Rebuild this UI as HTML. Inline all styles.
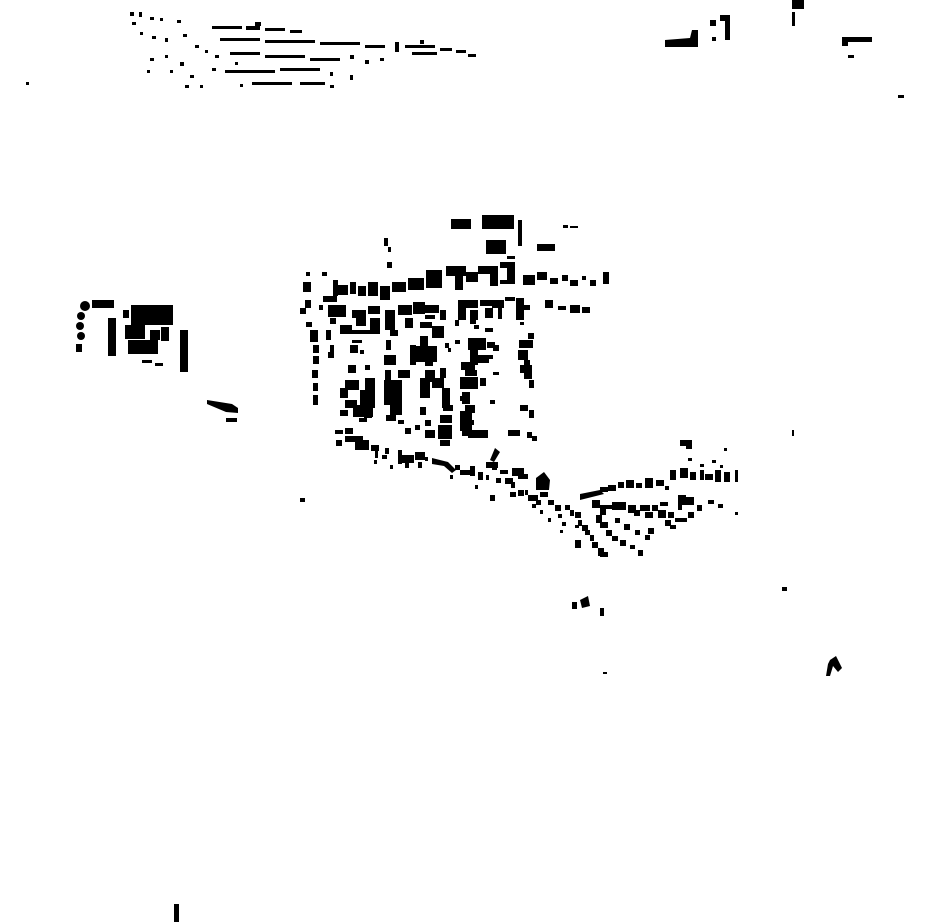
<!DOCTYPE html>
<html><head><meta charset="utf-8"><style>html,body{margin:0;padding:0;background:#fff}svg{display:block}</style></head>
<body>
<svg width="930" height="924" viewBox="0 0 930 924" xmlns="http://www.w3.org/2000/svg" fill="#000">
<!-- top strip -->
<g>
<rect x="130" y="12" width="4" height="4"/><rect x="139" y="12" width="3" height="5"/><rect x="132" y="22" width="4" height="3"/><rect x="150" y="17" width="4" height="3"/><rect x="160" y="18" width="3" height="3"/><rect x="177" y="20" width="4" height="3"/>
<rect x="140" y="32" width="3" height="3"/><rect x="152" y="36" width="4" height="3"/><rect x="165" y="38" width="3" height="4"/><rect x="183" y="34" width="4" height="3"/><rect x="195" y="45" width="4" height="3"/><rect x="205" y="50" width="3" height="3"/>
<rect x="212" y="26" width="30" height="3"/><rect x="246" y="26" width="14" height="4"/><rect x="255" y="22" width="6" height="4"/><rect x="265" y="28" width="20" height="3"/><rect x="290" y="30" width="12" height="3"/>
<rect x="220" y="38" width="40" height="3"/><rect x="265" y="40" width="50" height="3"/><rect x="320" y="42" width="40" height="3"/><rect x="365" y="45" width="20" height="3"/>
<rect x="215" y="55" width="4" height="3"/><rect x="230" y="52" width="30" height="3"/><rect x="265" y="55" width="40" height="3"/><rect x="310" y="58" width="30" height="3"/><rect x="350" y="55" width="4" height="4"/>
<rect x="395" y="42" width="4" height="10"/><rect x="405" y="45" width="30" height="3"/><rect x="412" y="52" width="25" height="3"/><rect x="440" y="48" width="12" height="3"/><rect x="456" y="50" width="10" height="3"/><rect x="468" y="54" width="8" height="3"/>
<rect x="150" y="58" width="4" height="3"/><rect x="165" y="55" width="3" height="3"/><rect x="180" y="62" width="4" height="4"/><rect x="147" y="70" width="3" height="3"/><rect x="170" y="70" width="3" height="3"/><rect x="190" y="75" width="4" height="3"/>
<rect x="212" y="68" width="4" height="3"/><rect x="225" y="70" width="50" height="3"/><rect x="280" y="68" width="40" height="3"/><rect x="330" y="72" width="3" height="4"/><rect x="350" y="75" width="3" height="5"/>
<rect x="185" y="85" width="4" height="3"/><rect x="200" y="85" width="3" height="3"/><rect x="240" y="84" width="3" height="3"/><rect x="252" y="82" width="40" height="3"/><rect x="300" y="82" width="25" height="3"/><rect x="330" y="85" width="4" height="3"/>
<rect x="235" y="62" width="3" height="3"/><rect x="365" y="60" width="4" height="4"/><rect x="380" y="58" width="4" height="3"/><rect x="420" y="40" width="4" height="4"/>
<rect x="26" y="82" width="3" height="3"/>
<polygon points="665,40 690,38 692,30 698,30 698,47 665,47"/><rect x="710" y="20" width="6" height="6"/><rect x="720" y="15" width="10" height="6"/><rect x="725" y="20" width="5" height="20"/><rect x="712" y="37" width="4" height="4"/>
<rect x="792" y="0" width="12" height="9"/><rect x="792" y="12" width="3" height="14"/><rect x="842" y="37" width="30" height="5"/><rect x="842" y="42" width="6" height="4"/><rect x="848" y="55" width="6" height="3"/><rect x="898" y="95" width="6" height="3"/>
</g>
<!-- west group -->
<g>
<circle cx="85" cy="306" r="5"/><circle cx="81" cy="316" r="4"/><circle cx="80" cy="326" r="4"/><circle cx="81" cy="336" r="4"/><rect x="76" y="344" width="6" height="8"/>
<rect x="92" y="300" width="22" height="8"/><rect x="108" y="318" width="8" height="38"/><rect x="123" y="310" width="6" height="8"/><rect x="131" y="305" width="42" height="20"/><rect x="125" y="325" width="20" height="14"/><rect x="128" y="340" width="30" height="14"/><rect x="150" y="330" width="10" height="10"/><rect x="161" y="327" width="8" height="14"/><rect x="180" y="330" width="8" height="42"/><rect x="142" y="360" width="10" height="3"/><rect x="155" y="363" width="8" height="3"/>
<polygon points="207,400 232,404 238,408 238,413 226,412 207,404"/><rect x="226" y="418" width="11" height="4"/>
<rect x="300" y="498" width="5" height="4"/><rect x="174" y="904" width="5" height="18"/>
</g>
<!-- central -->
<g>
<rect x="451" y="219" width="20" height="10"/><rect x="482" y="215" width="32" height="14"/><rect x="486" y="240" width="20" height="14"/><rect x="518" y="220" width="4" height="26"/><rect x="537" y="244" width="18" height="7"/><rect x="563" y="225" width="5" height="3"/><rect x="570" y="226" width="8" height="2"/>
<rect x="384" y="238" width="4" height="8"/><rect x="387" y="262" width="5" height="6"/><rect x="388" y="247" width="3" height="5"/>
<rect x="306" y="272" width="4" height="4"/><rect x="303" y="282" width="8" height="10"/><rect x="322" y="272" width="5" height="4"/><rect x="333" y="280" width="5" height="16"/><rect x="338" y="285" width="10" height="10"/><rect x="350" y="282" width="6" height="12"/><rect x="358" y="286" width="8" height="10"/><rect x="368" y="282" width="10" height="14"/><rect x="380" y="286" width="10" height="14"/><rect x="392" y="282" width="14" height="10"/><rect x="408" y="278" width="16" height="12"/><rect x="426" y="270" width="16" height="18"/><rect x="446" y="266" width="20" height="10"/><rect x="455" y="268" width="8" height="22"/><rect x="466" y="272" width="12" height="10"/><rect x="478" y="266" width="20" height="8"/><rect x="490" y="270" width="8" height="16"/><rect x="500" y="262" width="14" height="6"/><rect x="507" y="262" width="8" height="22"/><rect x="500" y="280" width="14" height="4"/><rect x="507" y="256" width="8" height="3"/>
<rect x="523" y="275" width="12" height="10"/><rect x="537" y="272" width="10" height="8"/><rect x="550" y="278" width="8" height="6"/><rect x="562" y="275" width="6" height="6"/><rect x="570" y="280" width="8" height="6"/><rect x="582" y="276" width="4" height="4"/><rect x="590" y="280" width="6" height="6"/><rect x="603" y="272" width="6" height="12"/>
<rect x="545" y="300" width="8" height="8"/><rect x="558" y="306" width="8" height="4"/><rect x="570" y="305" width="10" height="8"/><rect x="582" y="307" width="8" height="6"/>
<rect x="300" y="308" width="6" height="6"/><rect x="305" y="300" width="6" height="8"/><rect x="306" y="322" width="6" height="5"/><rect x="310" y="330" width="8" height="12"/><rect x="313" y="345" width="6" height="8"/><rect x="313" y="356" width="6" height="8"/><rect x="312" y="370" width="6" height="8"/><rect x="313" y="383" width="5" height="8"/><rect x="313" y="395" width="5" height="10"/><rect x="319" y="305" width="4" height="5"/>
<rect x="323" y="296" width="14" height="6"/><rect x="328" y="305" width="18" height="12"/><rect x="330" y="318" width="6" height="6"/><rect x="326" y="330" width="5" height="10"/><rect x="330" y="345" width="4" height="8"/><rect x="328" y="352" width="6" height="6"/><rect x="340" y="325" width="12" height="8"/><rect x="352" y="310" width="14" height="8"/><rect x="356" y="318" width="10" height="8"/><rect x="368" y="306" width="12" height="8"/><rect x="370" y="318" width="10" height="12"/><rect x="340" y="330" width="40" height="4"/>
<rect x="350" y="345" width="8" height="8"/><rect x="352" y="340" width="10" height="3"/><rect x="360" y="350" width="4" height="4"/><rect x="365" y="365" width="5" height="5"/><rect x="348" y="365" width="8" height="8"/><rect x="345" y="380" width="14" height="10"/><rect x="340" y="388" width="8" height="10"/><rect x="345" y="400" width="12" height="8"/><rect x="340" y="410" width="8" height="6"/><rect x="360" y="390" width="6" height="20"/><rect x="365" y="378" width="10" height="30"/><rect x="353" y="405" width="20" height="12"/><rect x="364" y="414" width="8" height="4"/><rect x="359" y="418" width="8" height="4"/>
<rect x="385" y="310" width="10" height="20"/><rect x="398" y="305" width="14" height="10"/><rect x="405" y="318" width="8" height="10"/><rect x="413" y="302" width="12" height="12"/><rect x="425" y="305" width="14" height="8"/><rect x="425" y="315" width="10" height="4"/><rect x="420" y="322" width="12" height="6"/><rect x="432" y="326" width="12" height="12"/><rect x="440" y="310" width="6" height="10"/><rect x="386" y="340" width="5" height="10"/><rect x="390" y="330" width="8" height="6"/>
<rect x="384" y="355" width="12" height="10"/><rect x="385" y="370" width="6" height="14"/><rect x="384" y="380" width="18" height="25"/><rect x="390" y="405" width="12" height="10"/><rect x="386" y="415" width="10" height="6"/><rect x="398" y="370" width="12" height="8"/><rect x="394" y="400" width="4" height="4"/><rect x="398" y="420" width="6" height="4"/><rect x="405" y="428" width="6" height="6"/><rect x="415" y="425" width="5" height="5"/><rect x="425" y="430" width="10" height="8"/>
<rect x="410" y="345" width="6" height="20"/><rect x="415" y="346" width="22" height="16"/><rect x="420" y="336" width="8" height="10"/><rect x="425" y="360" width="8" height="6"/><rect x="445" y="343" width="4" height="5"/><rect x="448" y="348" width="3" height="4"/>
<rect x="425" y="370" width="10" height="12"/><rect x="420" y="378" width="10" height="20"/><rect x="432" y="378" width="12" height="10"/><rect x="440" y="368" width="6" height="10"/><rect x="442" y="388" width="8" height="20"/><rect x="443" y="405" width="10" height="6"/><rect x="440" y="415" width="12" height="8"/><rect x="438" y="425" width="14" height="14"/><rect x="425" y="420" width="6" height="6"/><rect x="420" y="407" width="6" height="8"/><rect x="440" y="440" width="10" height="6"/>
<rect x="458" y="300" width="8" height="20"/><rect x="466" y="300" width="12" height="8"/><rect x="470" y="310" width="8" height="10"/><rect x="480" y="300" width="12" height="6"/><rect x="485" y="308" width="8" height="10"/><rect x="492" y="300" width="12" height="8"/><rect x="498" y="305" width="4" height="14"/><rect x="455" y="320" width="4" height="6"/><rect x="470" y="320" width="6" height="4"/><rect x="474" y="325" width="5" height="4"/><rect x="485" y="328" width="8" height="4"/>
<rect x="468" y="338" width="18" height="12"/><rect x="470" y="345" width="8" height="20"/><rect x="475" y="355" width="14" height="8"/><rect x="487" y="342" width="8" height="6"/><rect x="493" y="345" width="6" height="6"/><rect x="455" y="340" width="5" height="4"/><rect x="461" y="362" width="14" height="8"/><rect x="465" y="370" width="12" height="6"/><rect x="460" y="377" width="18" height="12"/><rect x="462" y="392" width="8" height="12"/><rect x="465" y="405" width="10" height="8"/><rect x="460" y="411" width="12" height="20"/><rect x="462" y="428" width="10" height="8"/><rect x="470" y="420" width="4" height="5"/><rect x="468" y="430" width="20" height="8"/><rect x="480" y="378" width="6" height="8"/><rect x="488" y="355" width="5" height="4"/><rect x="490" y="400" width="5" height="4"/><rect x="460" y="396" width="3" height="5"/>
<rect x="505" y="297" width="10" height="4"/><rect x="516" y="298" width="8" height="22"/><rect x="524" y="305" width="6" height="5"/><rect x="520" y="322" width="4" height="3"/><rect x="528" y="333" width="6" height="6"/><rect x="519" y="340" width="14" height="8"/><rect x="518" y="350" width="10" height="10"/><rect x="524" y="360" width="6" height="6"/><rect x="520" y="365" width="12" height="8"/><rect x="524" y="373" width="8" height="6"/><rect x="529" y="380" width="5" height="8"/><rect x="520" y="405" width="8" height="6"/><rect x="529" y="410" width="5" height="8"/><rect x="508" y="430" width="12" height="6"/><rect x="527" y="432" width="5" height="6"/><rect x="532" y="436" width="5" height="5"/><rect x="493" y="372" width="6" height="3"/>
<!-- southern band -->
<rect x="336" y="440" width="6" height="6"/><rect x="335" y="430" width="8" height="4"/><rect x="345" y="428" width="8" height="6"/><rect x="345" y="436" width="18" height="6"/><rect x="355" y="440" width="14" height="10"/><rect x="362" y="445" width="6" height="5"/><rect x="371" y="445" width="8" height="6"/><rect x="375" y="448" width="3" height="10"/><rect x="382" y="455" width="5" height="4"/><rect x="385" y="448" width="4" height="6"/><rect x="374" y="460" width="3" height="4"/>
<rect x="398" y="450" width="4" height="14"/><rect x="400" y="455" width="14" height="8"/><rect x="405" y="462" width="4" height="6"/><rect x="415" y="452" width="10" height="8"/><rect x="418" y="462" width="4" height="6"/><rect x="390" y="465" width="3" height="4"/><rect x="425" y="457" width="3" height="4"/>
<polygon points="432,458 448,462 456,470 452,473 444,466 432,464"/><rect x="455" y="465" width="5" height="5"/><rect x="450" y="475" width="3" height="4"/><rect x="460" y="470" width="10" height="5"/><rect x="470" y="466" width="5" height="10"/><rect x="478" y="472" width="5" height="8"/><rect x="486" y="475" width="3" height="5"/><rect x="475" y="485" width="3" height="4"/>
<polygon points="495,448 500,452 494,462 490,460"/><rect x="486" y="462" width="12" height="6"/><rect x="492" y="465" width="5" height="5"/><rect x="500" y="470" width="8" height="4"/><rect x="496" y="478" width="5" height="5"/><rect x="505" y="478" width="8" height="6"/><rect x="511" y="482" width="4" height="6"/><rect x="490" y="495" width="5" height="6"/><rect x="510" y="492" width="6" height="5"/><rect x="518" y="490" width="6" height="6"/><rect x="512" y="468" width="12" height="8"/><rect x="518" y="474" width="10" height="5"/>
<polygon points="536,478 544,472 550,480 549,490 536,490"/><rect x="525" y="490" width="3" height="5"/><rect x="528" y="495" width="10" height="6"/><rect x="536" y="500" width="5" height="5"/><rect x="540" y="492" width="8" height="5"/><rect x="532" y="504" width="4" height="4"/><rect x="548" y="500" width="6" height="5"/><rect x="555" y="505" width="6" height="6"/><rect x="540" y="510" width="3" height="4"/><rect x="558" y="514" width="4" height="4"/>
<rect x="565" y="505" width="5" height="5"/><rect x="570" y="510" width="4" height="6"/><rect x="575" y="512" width="6" height="6"/><rect x="578" y="520" width="4" height="6"/><rect x="582" y="525" width="6" height="6"/><rect x="585" y="530" width="5" height="5"/><rect x="590" y="535" width="4" height="6"/><rect x="575" y="540" width="6" height="8"/><rect x="592" y="542" width="6" height="6"/><rect x="598" y="548" width="6" height="8"/><rect x="600" y="552" width="8" height="5"/><rect x="575" y="525" width="4" height="3"/><rect x="562" y="522" width="4" height="4"/><rect x="560" y="530" width="3" height="3"/><rect x="548" y="518" width="3" height="4"/>
<polygon points="580,494 600,490 604,494 580,500"/><rect x="592" y="500" width="8" height="8"/><rect x="600" y="505" width="6" height="10"/><rect x="596" y="515" width="6" height="8"/><rect x="600" y="522" width="8" height="6"/><rect x="606" y="530" width="6" height="6"/><rect x="612" y="536" width="6" height="5"/><rect x="620" y="540" width="6" height="6"/><rect x="630" y="545" width="5" height="4"/><rect x="638" y="550" width="5" height="6"/><rect x="615" y="518" width="5" height="5"/><rect x="624" y="524" width="6" height="6"/><rect x="635" y="530" width="5" height="5"/><rect x="645" y="535" width="5" height="5"/>
<rect x="600" y="487" width="8" height="5"/><rect x="608" y="485" width="8" height="6"/><rect x="618" y="482" width="6" height="6"/><rect x="626" y="480" width="8" height="8"/><rect x="636" y="483" width="6" height="5"/><rect x="645" y="478" width="8" height="10"/><rect x="656" y="480" width="8" height="6"/><rect x="665" y="486" width="4" height="4"/>
<rect x="600" y="505" width="18" height="4"/><rect x="612" y="502" width="14" height="8"/><rect x="628" y="505" width="8" height="8"/><rect x="634" y="510" width="6" height="6"/><rect x="640" y="505" width="10" height="6"/><rect x="645" y="512" width="8" height="6"/><rect x="652" y="505" width="6" height="6"/><rect x="658" y="510" width="8" height="8"/><rect x="660" y="502" width="8" height="4"/><rect x="665" y="520" width="6" height="6"/><rect x="648" y="528" width="6" height="6"/><rect x="668" y="512" width="6" height="6"/>
<rect x="678" y="495" width="8" height="10"/><rect x="686" y="497" width="8" height="8"/><rect x="678" y="505" width="4" height="5"/><rect x="697" y="505" width="5" height="6"/><rect x="688" y="512" width="6" height="6"/><rect x="670" y="525" width="6" height="4"/><rect x="675" y="518" width="12" height="4"/><rect x="708" y="500" width="6" height="4"/><rect x="718" y="504" width="5" height="4"/><rect x="735" y="512" width="3" height="3"/>
<rect x="680" y="440" width="12" height="6"/><rect x="686" y="445" width="6" height="4"/><rect x="724" y="448" width="3" height="3"/><rect x="688" y="458" width="4" height="3"/><rect x="712" y="460" width="4" height="3"/>
<rect x="670" y="470" width="6" height="10"/><rect x="680" y="468" width="8" height="10"/><rect x="690" y="472" width="6" height="8"/><rect x="700" y="470" width="4" height="10"/><rect x="705" y="474" width="8" height="6"/><rect x="715" y="470" width="6" height="12"/><rect x="724" y="472" width="6" height="10"/><rect x="735" y="470" width="3" height="12"/><rect x="700" y="464" width="4" height="3"/><rect x="720" y="465" width="3" height="3"/>
<rect x="792" y="430" width="2" height="6"/><rect x="782" y="587" width="5" height="4"/>
<rect x="572" y="602" width="5" height="7"/><polygon points="580,600 588,596 590,606 582,608"/><rect x="600" y="608" width="4" height="8"/><rect x="603" y="672" width="4" height="2"/>
<polygon points="830,660 836,656 842,668 838,672 833,666 830,676 826,676 828,664"/>
</g>
</svg>
</body></html>
